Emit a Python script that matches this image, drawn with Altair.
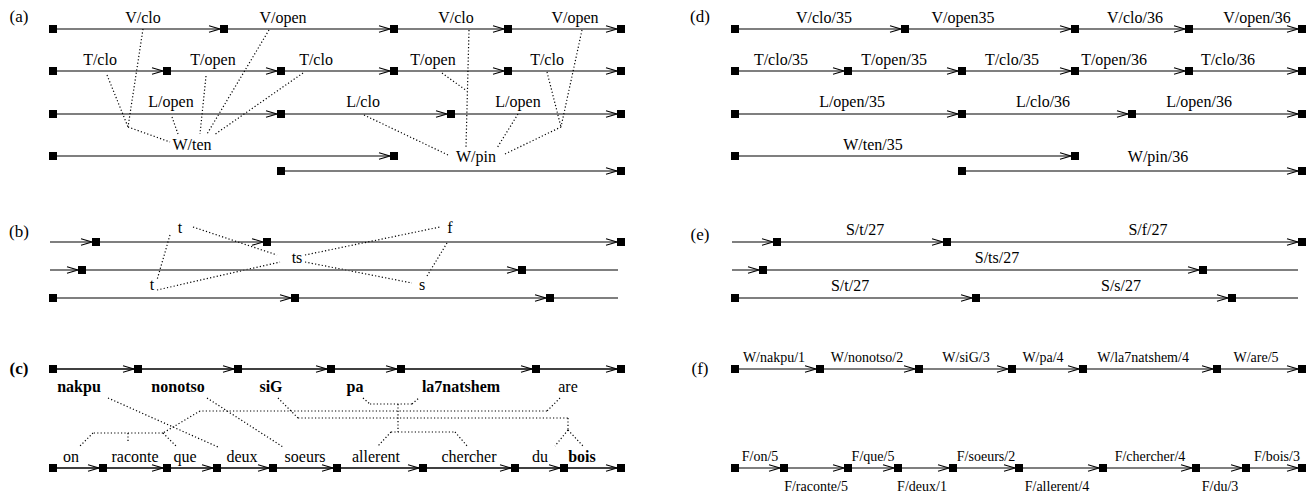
import altair as alt
import pandas as pd

# ---------------- values ----------------
# Tiers (horizontal annotation arcs): level, line start/end, node offsets
TIER_Y = [29, 71, 114, 156, 171,          # (a)
          242, 270, 298,                  # (b)
          369, 468,                       # (c)
          29, 71, 114, 156, 171,          # (d)
          242, 270, 298,                  # (e)
          369, 468]                       # (f)
TIER_START = [53, 53, 53, 53, 281,
              50, 50, 53,
              53, 53,
              735, 735, 735, 735, 962,
              732, 732, 735,
              735, 735]
TIER_END = [621, 621, 621, 394, 621,
            621, 618, 618,
            621, 621,
            1302, 1302, 1302, 1075, 1302,
            1302, 1298, 1298,
            1302, 1302]
TIER_NODES = [
    [53, 224, 394, 508, 621],
    [53, 167, 281, 394, 508, 621],
    [53, 281, 451, 621],
    [53, 394],
    [281, 621],
    [96, 267, 621],
    [82, 522],
    [53, 295, 550],
    [53, 138, 238, 331, 401, 536, 621],
    [53, 103, 167, 217, 273, 337, 423, 515, 564, 621],
    [735, 905, 1075, 1189, 1302],
    [735, 848, 962, 1075, 1189, 1302],
    [735, 962, 1132, 1302],
    [735, 1075],
    [962, 1302],
    [777, 947, 1302],
    [763, 1203],
    [735, 976, 1232],
    [735, 820, 919, 1012, 1083, 1217, 1302],
    [735, 784, 848, 898, 953, 1019, 1103, 1196, 1246, 1302],
]
TIER_TONE = ["k", "k", "k", "k", "k",
             "k", "g", "g",
             "b", "b",
             "k", "k", "k", "k", "k",
             "k", "g", "g",
             "k", "k"]

# Labels: text, x, baseline, style group
LABEL_TEXT = [
    "(a)", "(b)", "(c)", "(d)", "(e)", "(f)",
    # (a)
    "V/clo", "V/open", "V/clo", "V/open",
    "T/clo", "T/open", "T/clo", "T/open", "T/clo",
    "L/open", "L/clo", "L/open", "W/ten", "W/pin",
    # (b)
    "t", "ts", "t", "f", "s",
    # (c)
    "nakpu", "nonotso", "siG", "pa", "la7natshem", "are",
    "on", "raconte", "que", "deux", "soeurs", "allerent", "chercher", "du", "bois",
    # (d)
    "V/clo/35", "V/open35", "V/clo/36", "V/open/36",
    "T/clo/35", "T/open/35", "T/clo/35", "T/open/36", "T/clo/36",
    "L/open/35", "L/clo/36", "L/open/36", "W/ten/35", "W/pin/36",
    # (e)
    "S/t/27", "S/f/27", "S/ts/27", "S/t/27", "S/s/27",
    # (f)
    "W/nakpu/1", "W/nonotso/2", "W/siG/3", "W/pa/4", "W/la7natshem/4", "W/are/5",
    "F/on/5", "F/que/5", "F/soeurs/2", "F/chercher/4", "F/bois/3",
    "F/raconte/5", "F/deux/1", "F/allerent/4", "F/du/3",
]
LABEL_X = [
    19, 19, 19, 700, 700, 700,
    143, 283, 456, 575,
    100, 213, 316, 433, 547,
    171, 363, 518, 192, 476,
    180, 297, 152, 450, 422,
    79, 178, 271, 355, 461, 568,
    71, 135, 185, 242, 305, 376, 469, 540, 582,
    824, 963, 1135, 1257,
    781, 894, 1012, 1114, 1228,
    852, 1043, 1199, 873, 1158,
    865, 1148, 997, 850, 1121,
    774, 867, 966, 1043, 1143, 1256,
    760, 873, 986, 1150, 1277,
    816, 922, 1057, 1220,
]
LABEL_Y = [
    22, 237, 374, 22, 240, 374,
    23, 23, 23, 23,
    65, 65, 65, 65, 65,
    107, 107, 107, 150, 162,
    233, 263, 290, 233, 290,
    392, 392, 392, 392, 392, 392,
    462, 462, 462, 462, 462, 462, 462, 462, 462,
    23, 23, 23, 23,
    65, 65, 65, 65, 65,
    107, 107, 107, 150, 162,
    235, 235, 263, 291, 291,
    362, 362, 362, 362, 362, 362,
    461, 461, 461, 461, 461,
    491, 491, 491, 491,
]
LABEL_GROUP = (["panel", "panel", "panelbold", "panel", "panel", "panel"]
               + ["text"] * 14
               + ["text"] * 5
               + ["bold"] * 5 + ["text"]
               + ["text"] * 8 + ["bold"]
               + ["text"] * 14
               + ["text"] * 5
               + ["small"] * 15)

# Dotted association links
LINK_X1 = [143, 107, 128, 172, 206, 269, 303, 469, 442, 364, 518, 505, 547, 582,
           193, 170, 157, 305, 305, 447,
           108, 207, 278, 298, 568, 568, 568, 560, 547, 200, 163, 93, 128, 163,
           363, 370, 412, 398, 391, 391, 455]
LINK_Y1 = [29, 75, 127, 117, 76, 30, 73, 30, 73, 115, 114, 154, 72, 30,
           227, 235, 290, 255, 262, 243,
           398, 398, 398, 418, 418, 430, 430, 398, 411, 411, 433, 433, 433, 433,
           398, 404, 404, 404, 432, 432, 432]
LINK_X2 = [128, 128, 170, 178, 200, 207, 214, 466, 467, 448, 497, 561, 561, 561,
           277, 157, 280, 440, 412, 427,
           218, 283, 298, 568, 568, 555, 583, 547, 200, 163, 93, 80, 128, 177,
           370, 412, 419, 398, 455, 378, 468]
LINK_Y2 = [127, 127, 142, 134, 134, 134, 135, 147, 91, 155, 148, 127, 127, 127,
           255, 280, 262, 227, 283, 276,
           447, 447, 418, 418, 430, 446, 446, 411, 411, 433, 433, 446, 443, 447,
           404, 404, 398, 432, 432, 446, 447]

# ---------------- tables built from the values ----------------
edges, nodes, heads = [], [], []
for y, s, e, ns, tone in zip(TIER_Y, TIER_START, TIER_END, TIER_NODES, TIER_TONE):
    edges.append({"x": s, "x2": e, "y": y, "tone": tone})
    for n in ns:
        nodes.append({"x": n, "y": y})
        if n != s:
            heads.append({"x": n, "y": y})
edges = pd.DataFrame(edges)
nodes = pd.DataFrame(nodes)
heads = pd.DataFrame(heads)
labels = pd.DataFrame({"text": LABEL_TEXT, "x": LABEL_X, "y": LABEL_Y, "g": LABEL_GROUP})
links = pd.DataFrame({"x": LINK_X1, "y": LINK_Y1, "x2": LINK_X2, "y2": LINK_Y2})

W, H = 1299, 480
xs = alt.Scale(domain=[8, 8 + W], nice=False, zero=False)
ys = alt.Scale(domain=[8, 8 + H], nice=False, zero=False, reverse=True)
X = lambda f="x": alt.X(f, type="quantitative", scale=xs, axis=None)
Y = lambda f="y": alt.Y(f, type="quantitative", scale=ys, axis=None)

FONT = "Liberation Serif"

edge_layer = alt.Chart(edges).mark_rule().encode(
    x=X(), x2="x2:Q", y=Y(),
    color=alt.Color("tone:N", scale=alt.Scale(domain=["k", "g", "b"],
                                              range=["#000000", "#555555", "#000000"]), legend=None),
    strokeWidth=alt.StrokeWidth("tone:N", scale=alt.Scale(domain=["k", "g", "b"],
                                                          range=[1.2, 1.5, 1.6]), legend=None),
)
link_layer = alt.Chart(links).mark_rule(strokeWidth=1.2, strokeDash=[1.2, 2.2], color="#000").encode(
    x=X(), y=Y(), x2="x2:Q", y2="y2:Q"
)
head_layer = alt.Chart(heads).mark_point(
    shape="M-1,-0.6L1,0L-1,0.6", filled=False, stroke="#000", strokeWidth=1.1,
    size=121, opacity=1,
).encode(x=X(), y=Y(), xOffset=alt.value(-9.5))
node_layer = alt.Chart(nodes).mark_square(size=64, color="#000", opacity=1).encode(x=X(), y=Y())


def text_layer(group, size, weight="normal"):
    return alt.Chart(labels).transform_filter(alt.datum.g == group).mark_text(
        font=FONT, fontSize=size, fontWeight=weight, align="center",
        baseline="alphabetic", color="#000",
    ).encode(x=X(), y=Y(), text="text:N")


chart = alt.layer(
    link_layer, edge_layer, head_layer, node_layer,
    text_layer("text", 16), text_layer("bold", 16, "bold"),
    text_layer("small", 14), text_layer("panel", 17),
    text_layer("panelbold", 17, "bold"),
).properties(width=W, height=H, padding=0, background="white").configure_view(stroke=None)

chart.save("out.html", embed_options={"renderer": "svg", "actions": False})
